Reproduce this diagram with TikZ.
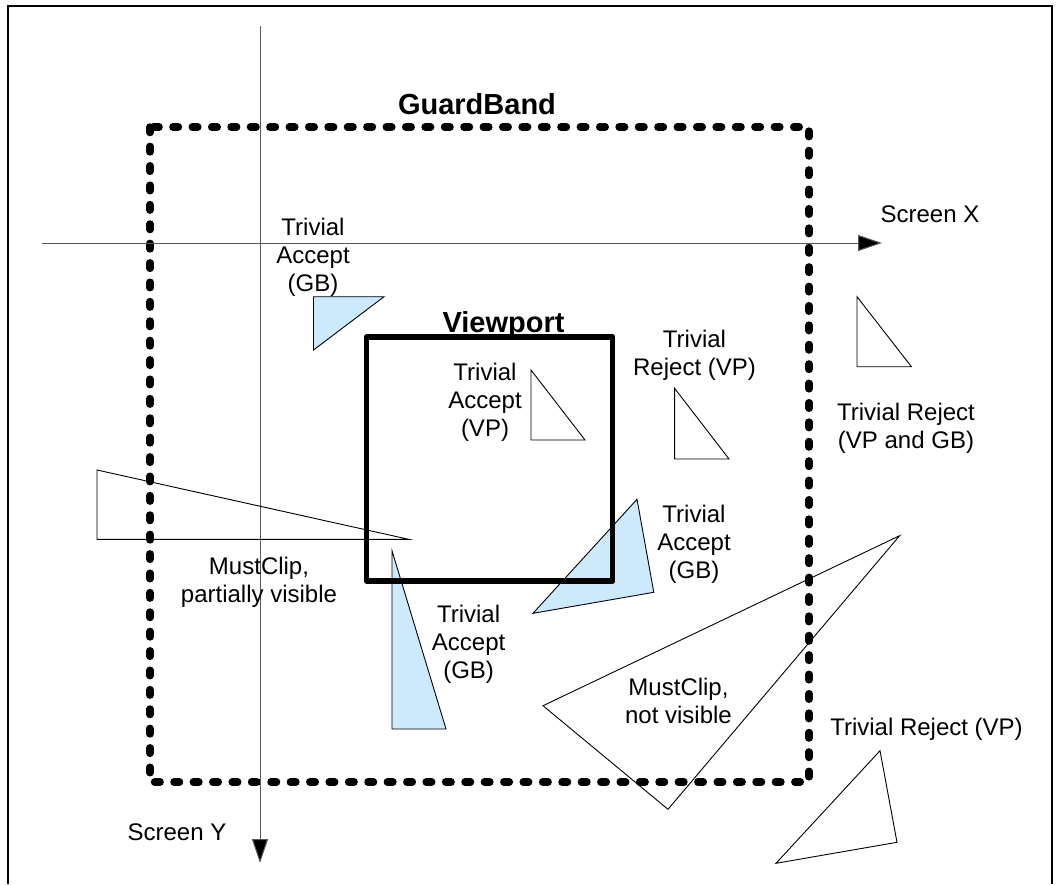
\documentclass[tikz,border=0pt]{standalone}
\usepackage{fontspec}
\setmainfont{Liberation Sans}
\usetikzlibrary{arrows.meta}
\definecolor{gbblue}{RGB}{204,234,252}

\begin{document}
\begin{tikzpicture}[x=1pt,y=-1pt,
  lbl/.style={align=center,inner sep=0pt,anchor=base,font=\fontsize{24}{28}\selectfont},
  boxtitle/.style={inner sep=0pt,anchor=base,font=\fontsize{29}{34}\selectfont\bfseries},
  axis/.style={draw=black!65,line width=1pt,-{Triangle[length=24pt,width=16pt,fill=black]}},
  tri/.style={draw=black,line width=0.9pt},
  acc/.style={tri,fill=gbblue}]

  % Fix the page size
  \useasboundingbox (0,0) rectangle (1060,884);

  % Outer frame, open at the bottom
  \draw[line width=2.5pt] (8,884) -- (8,6) -- (1052,6) -- (1052,884);

  % Guard band
  \draw[line width=7.5pt,line cap=round,dash pattern=on 5.5pt off 13.9pt]
    (150,127) rectangle (809,782);
  \node[boxtitle] (gbtitle) at (477,114) {GuardBand};

  % Screen axes
  \coordinate (xstart) at (42,243);
  \coordinate (xend) at (882,243);
  \coordinate (ystart) at (260,26);
  \coordinate (yend) at (260,863);
  \draw[axis] (xstart) -- (xend);
  \draw[axis] (ystart) -- (yend);
  \node[lbl] (screenx) at (930,222) {Screen X};
  \node[lbl] (screeny) at (177,840) {Screen Y};

  % Triangles accepted by the guard band
  \draw[acc] (313.5,296.7) -- (384,296.7) -- (313.5,350) -- cycle;
  \draw[acc] (637,499.3) -- (653.8,592.3) -- (533,613.3) -- cycle;
  \draw[acc] (392,550.7) -- (446,729) -- (392,729) -- cycle;

  % Triangles accepted or rejected by the viewport
  \draw[tri] (531,370) -- (585,440) -- (531,440) -- cycle;
  \draw[tri] (674.6,388.3) -- (729,459) -- (674.6,459) -- cycle;
  \draw[tri] (857,296.7) -- (911.4,366.7) -- (857,366.7) -- cycle;
  \draw[tri] (880,750.7) -- (897,842.3) -- (776,863.3) -- cycle;

  % Triangles that must be clipped
  \draw[tri] (97,470) -- (408.8,539.3) -- (97,539.3) -- cycle;
  \draw[tri] (899.6,535.7) -- (668,809.3) -- (543,705.7) -- cycle;

  % Viewport
  \draw[line width=5.5pt,line join=round] (366.5,337) rectangle (612.7,581);
  \node[boxtitle] (vptitle) at (503.5,332) {Viewport};

  % Labels (anchored at the baseline of the last line)
  \node[lbl] (accgb1) at (313,291) {Trivial\\Accept\\(GB)};
  \node[lbl] (accvp) at (485,436) {Trivial\\Accept\\(VP)};
  \node[lbl] (rejvp1) at (694.5,375) {Trivial\\Reject (VP)};
  \node[lbl] (rejboth) at (906,448) {Trivial Reject\\(VP and GB)};
  \node[lbl] (accgb2) at (694,578) {Trivial\\Accept\\(GB)};
  \node[lbl] (clipvis) at (259,602) {MustClip,\\partially visible};
  \node[lbl] (accgb3) at (468.6,678) {Trivial\\Accept\\(GB)};
  \node[lbl] (clipnot) at (678.5,723) {MustClip,\\not visible};
  \node[lbl] (rejvp2) at (926.5,735) {Trivial Reject (VP)};

\end{tikzpicture}
\end{document}
